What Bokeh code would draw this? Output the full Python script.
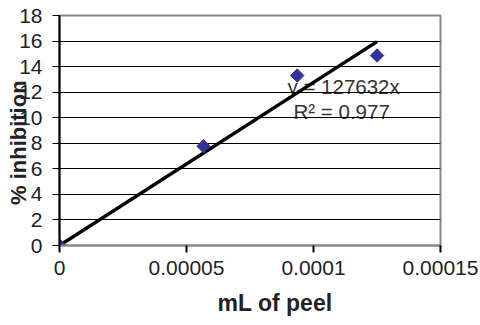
import math
from bokeh.plotting import figure
from bokeh.models import Range1d, FixedTicker, Label, Title
from bokeh.embed import file_html
from bokeh.resources import INLINE

# ---- data ----
peel_ml = [0.0, 0.0000567, 0.0000936, 0.000125]
inhibition = [0.0, 7.77, 13.3, 14.87]
slope = 127632
r_squared = 0.977
x_ticks = [0, 0.00005, 0.0001, 0.00015]
x_tick_labels = ["0", "0.00005", "0.0001", "0.00015"]
y_ticks = [0, 2, 4, 6, 8, 10, 12, 14, 16, 18]
x_title = "mL of peel"
y_title = "% inhibition"

FONT = "Liberation Sans"
TXT = "#222222"

p = figure(width=480, height=325, output_backend="svg", toolbar_location=None,
           x_range=Range1d(0, 0.00015), y_range=Range1d(0, 18),
           min_border_left=59, min_border_right=40, min_border_top=15, min_border_bottom=80)
p.background_fill_color = "white"
p.border_fill_color = "white"
p.outline_line_color = "#888888"
p.outline_line_width = 2

# grid
p.xgrid.visible = False
p.ygrid.grid_line_color = "black"
p.ygrid.grid_line_width = 1
p.ygrid.ticker = FixedTicker(ticks=y_ticks)

# x axis
xa = p.xaxis[0]
xa.ticker = FixedTicker(ticks=x_ticks)
xa.major_label_overrides = {t: l for t, l in zip(x_ticks, x_tick_labels)}
xa.axis_line_color = "#888888"
xa.axis_line_width = 2
xa.major_tick_in = 0
xa.major_tick_out = 7
xa.major_tick_line_color = "black"
xa.major_tick_line_width = 2
xa.minor_tick_line_color = None
xa.major_label_text_font = FONT
xa.major_label_text_font_size = "21px"
xa.major_label_text_color = TXT
xa.major_label_standoff = 8

# y axis (title padded with no-break spaces so it sits a little below the frame centre)
ya = p.yaxis[0]
ya.ticker = FixedTicker(ticks=y_ticks)
ya.axis_line_color = "black"
ya.axis_line_width = 2
ya.major_tick_in = 0
ya.major_tick_out = 7
ya.major_tick_line_color = "black"
ya.major_tick_line_width = 1
ya.minor_tick_line_color = None
ya.major_label_text_font = FONT
ya.major_label_text_font_size = "21px"
ya.major_label_text_color = TXT
ya.major_label_standoff = 10
ya.axis_label = y_title + "\u00a0" * 4
ya.axis_label_text_font = FONT
ya.axis_label_text_font_size = "22px"
ya.axis_label_text_font_style = "bold"
ya.axis_label_text_color = TXT
ya.axis_label_standoff = -15

# x title, shifted right as in the reference
p.add_layout(Title(text=x_title, align="left", offset=158, standoff=20,
                   text_font=FONT, text_font_size="23px", text_font_style="bold",
                   text_color=TXT), "below")

# trendline through origin
x_end = max(peel_ml)
p.line([0, x_end], [0, slope * x_end], line_color="black", line_width=3.5)

# data points (diamonds)
p.scatter(peel_ml, inhibition, marker="square", angle=math.pi / 4, size=9.5,
          fill_color="#333399", line_color="#333399")

# equation texts
p.add_layout(Label(x=228, y=159, x_units="screen", y_units="screen",
                   text=f"y = {slope}x", text_font=FONT, text_font_size="20.5px",
                   text_color="#333333", text_baseline="alphabetic", level="image"))
p.add_layout(Label(x=234, y=134, x_units="screen", y_units="screen",
                   text=f"R\u00b2 = {r_squared}", text_font=FONT, text_font_size="20.5px",
                   text_color="#333333", text_baseline="alphabetic", level="image"))

open("out.html", "w").write(file_html(p, INLINE))
